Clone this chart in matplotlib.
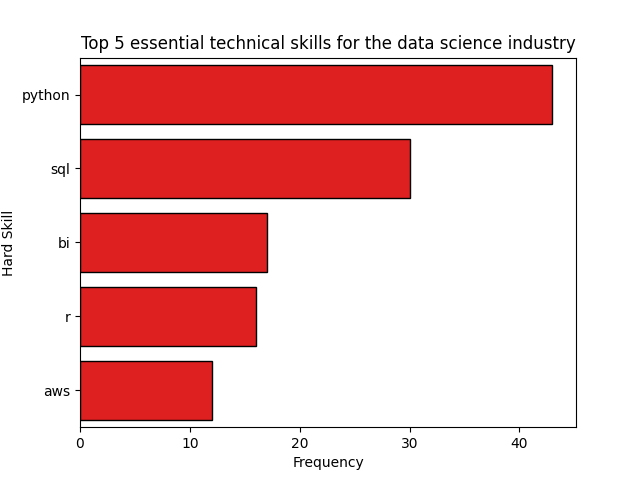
import matplotlib
matplotlib.use('Agg')
import matplotlib.pyplot as plt
import seaborn as sns
import pandas as pd

# Skill counts
skills = ['python', 'sql', 'bi', 'r', 'aws']
counts = [43, 30, 17, 16, 12]

df = pd.DataFrame({'Hard Skill': skills, 'Frequency': counts})

fig, ax = plt.subplots(figsize=(6.4, 4.8), dpi=100)
sns.barplot(data=df, x='Frequency', y='Hard Skill', color='red', edgecolor='black', ax=ax)
ax.set_title('Top 5 essential technical skills for the data science industry')

plt.savefig('out.png', dpi=100)
